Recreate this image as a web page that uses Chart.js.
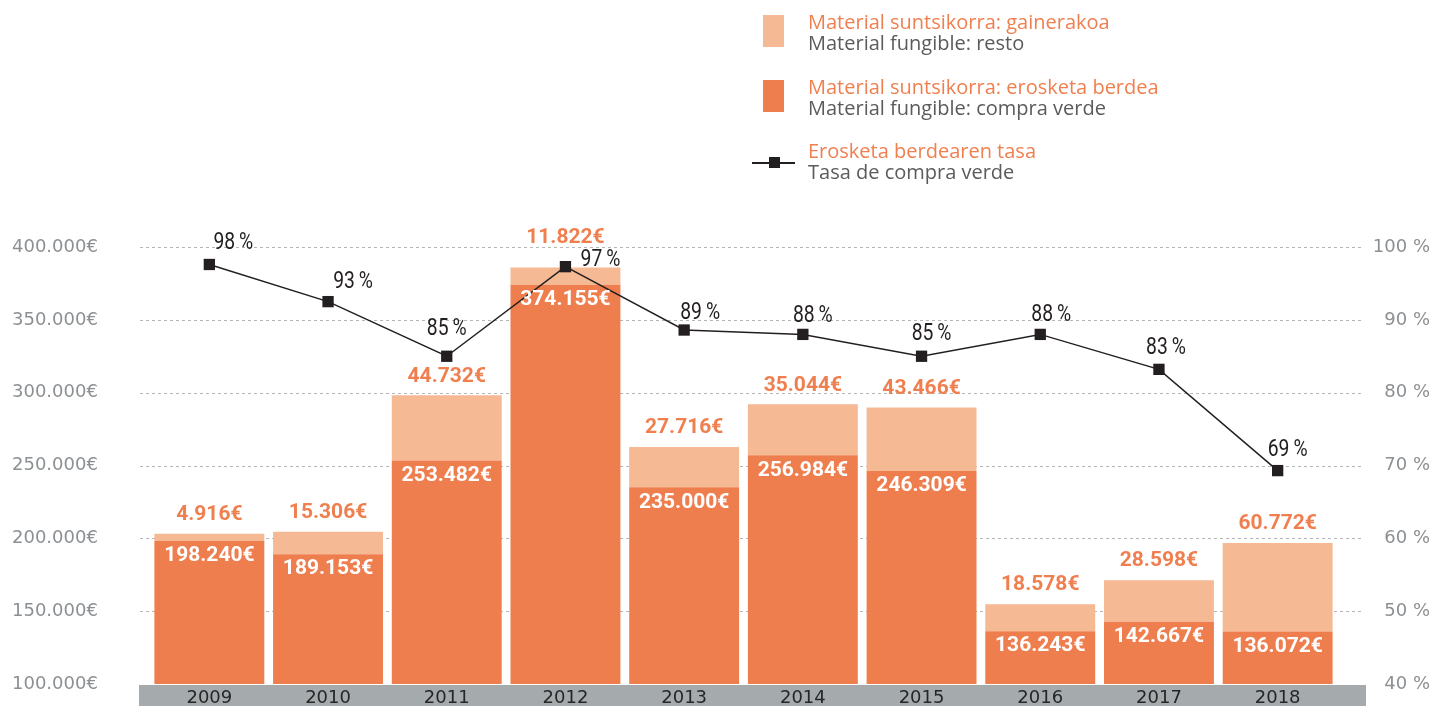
<!DOCTYPE html>
<html><head><meta charset="utf-8">
<script src="https://cdn.jsdelivr.net/npm/chart.js@4.4.1/dist/chart.umd.min.js"></script>
<style>
html,body{margin:0;padding:0;background:#fff;}
#wrap{position:relative;width:1437px;height:706px;}
canvas{position:absolute;left:0;top:0;}
.lg{position:absolute;left:808px;font-family:"Open Sans",Lato,sans-serif;font-size:20px;line-height:21px;}
.lg .o{color:#F07F4F;}
.lg .g{color:#5a5b5d;}
.sw{position:absolute;left:763px;width:21px;height:32px;}
</style></head>
<body><div id="wrap">
<canvas id="c" width="1437" height="706"></canvas>
<div class="sw" style="top:15px;background:#F5B994"></div>
<div class="lg" style="top:11px"><div class="o">Material suntsikorra: gainerakoa</div><div class="g">Material fungible: resto</div></div>
<div class="sw" style="top:80px;background:#EF7E4E"></div>
<div class="lg" style="top:76px"><div class="o">Material suntsikorra: erosketa berdea</div><div class="g">Material fungible: compra verde</div></div>
<div style="position:absolute;left:752px;top:162px;width:43px;height:1.5px;background:#231f20"></div>
<div style="position:absolute;left:769px;top:157px;width:11px;height:11px;background:#231f20"></div>
<div class="lg" style="top:140px"><div class="o">Erosketa berdearen tasa</div><div class="g">Tasa de compra verde</div></div>
</div>
<script>
const years = ["2009","2010","2011","2012","2013","2014","2015","2016","2017","2018"];
const greenPurchase = [198240,189153,253482,374155,235000,256984,246309,136243,142667,136072];
const otherMaterial = [4916,15306,44732,11822,27716,35044,43466,18578,28598,60772];
const greenRate = [97.6,92.5,85.0,97.3,88.6,88.0,85.0,88.0,83.2,69.3];
const leftTicks = [100000,150000,200000,250000,300000,350000,400000];
const rightTicks = [40,50,60,70,80,90,100];

const DARK = "#EF7E4E", LIGHT = "#F5B994", ORANGE = "#F07F4F";
const AXISFONT = '"DejaVu Sans",sans-serif';

function fmt(n){ return String(n).replace(/\B(?=(\d{3})+(?!\d))/g, "."); }

const decor = {
  id: "decor",
  beforeDraw(chart){
    const {ctx, chartArea:a} = chart;
    ctx.save();
    ctx.fillStyle = "#A5AAAD";
    ctx.fillRect(a.left - 11, a.bottom + 1, (a.right + 29) - (a.left - 11), chart.height - a.bottom - 1);
    ctx.restore();
  },
  beforeDatasetsDraw(chart){
    const {ctx, chartArea:a, scales} = chart;
    const y = scales.y;
    ctx.save();
    ctx.strokeStyle = "#B4B6B8";
    ctx.lineWidth = 1;
    ctx.setLineDash([3,3]);
    leftTicks.forEach(v => {
      if (v === y.min) return;
      const py = Math.round(y.getPixelForValue(v)) + 0.5;
      ctx.beginPath(); ctx.moveTo(a.left - 10, py); ctx.lineTo(a.right + 25, py); ctx.stroke();
    });
    ctx.restore();
  },
  afterDatasetsDraw(chart){
    const {ctx} = chart;
    const m0 = chart.getDatasetMeta(0), m1 = chart.getDatasetMeta(1), m2 = chart.getDatasetMeta(2);
    ctx.save();
    ctx.textAlign = "center";
    ctx.textBaseline = "middle";
    ctx.font = 'bold 21px Roboto,sans-serif';
    m0.data.forEach((el,i) => {
      ctx.fillStyle = "#fff";
      ctx.fillText(fmt(greenPurchase[i]) + "€", el.x, el.y + 15);
    });
    m1.data.forEach((el,i) => {
      ctx.fillStyle = ORANGE;
      const extra = i === 3 ? 11 : 0;
      ctx.fillText(fmt(otherMaterial[i]) + "€", el.x, el.y - 19 - extra);
    });
    ctx.fillStyle = "#231f20";
    ctx.font = '23px Roboto,sans-serif';
    const dx = [24,25,0,35,16,10,10,11,7,10];
    const dy = [21,19,27,6,17,18,22,19,21,20];
    m2.data.forEach((el,i) => {
      ctx.save();
      ctx.translate(el.x + dx[i], el.y - dy[i]);
      ctx.scale(0.84, 1);
      ctx.fillText(Math.round(greenRate[i]) + "\u2009%", 0, 0);
      ctx.restore();
    });
    ctx.restore();
  }
};

new Chart(document.getElementById("c"), {
  type: "bar",
  data: {
    labels: years,
    datasets: [
      { label: "Material fungible: compra verde", data: greenPurchase, backgroundColor: DARK, stack: "s", yAxisID: "y", order: 1,
        barPercentage: 0.926, categoryPercentage: 1 },
      { label: "Material fungible: resto", data: otherMaterial, backgroundColor: LIGHT, stack: "s", yAxisID: "y", order: 1,
        barPercentage: 0.926, categoryPercentage: 1 },
      { type: "line", label: "Tasa de compra verde", data: greenRate, yAxisID: "y1", order: 0,
        borderColor: "#231f20", borderWidth: 1.5, pointStyle: "rect", pointRadius: 8, pointHoverRadius: 8,
        pointBackgroundColor: "#231f20", pointBorderWidth: 0, tension: 0 }
    ]
  },
  options: {
    responsive: false,
    animation: false,
    devicePixelRatio: 1,
    layout: { padding: { top: 247, right: 7, left: 12, bottom: 0 } },
    plugins: { legend: { display: false }, tooltip: { enabled: false } },
    scales: {
      x: {
        stacked: true,
        grid: { display: false, drawTicks: false },
        border: { display: false },
        ticks: { color: "#262626", font: { family: AXISFONT, size: 18 }, padding: 4,
          maxRotation: 0, minRotation: 0, autoSkip: false },
        afterFit(s){ s.height = 22; }
      },
      y: {
        stacked: true, position: "left", min: 100000, max: 400000,
        afterBuildTicks(s){ s.ticks = leftTicks.map(v => ({value: v})); },
        grid: { display: false, drawTicks: false },
        border: { display: false },
        ticks: { color: "#8C9093", font: { family: AXISFONT, size: 18 }, padding: 0, crossAlign: "far",
          callback: v => fmt(v) + "€" },
        afterFit(s){ s.width = 138; }
      },
      y1: {
        position: "right", min: 40, max: 100,
        afterBuildTicks(s){ s.ticks = rightTicks.map(v => ({value: v})); },
        grid: { display: false, drawTicks: false },
        border: { display: false },
        ticks: { color: "#8C9093", font: { family: AXISFONT, size: 18 }, padding: 0, crossAlign: "far",
          callback: v => v + " %" },
        afterFit(s){ s.width = 93; }
      }
    }
  },
  plugins: [decor]
});
</script>
</body></html>
